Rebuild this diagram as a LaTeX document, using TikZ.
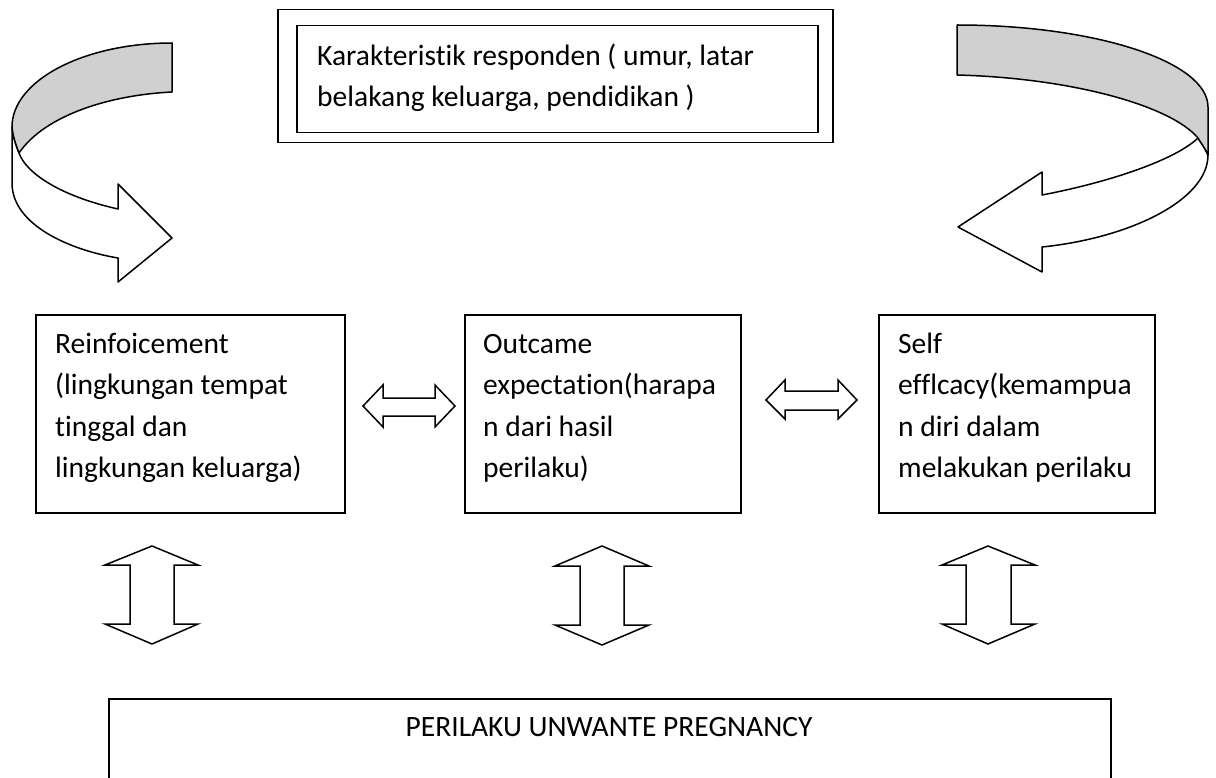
\documentclass[tikz,border=0pt]{standalone}
\usepackage{fontspec}
\setmainfont{Carlito}[Ligatures=CommonOff]
\definecolor{bandgrey}{RGB}{208,208,208}
\tikzset{
  boxframe/.style={draw, line width=1.5pt, inner sep=0pt, anchor=north west},
  txt/.style={inner sep=0pt, anchor=north west, align=left},
  blockarrow/.style={draw, line width=1.5pt, fill=white, line join=miter},
  bandwhite/.style={draw, line width=1.5pt, fill=white, line join=round},
  bandgreyst/.style={draw, line width=1.5pt, fill=bandgrey, line join=round},
}
\begin{document}
\begin{tikzpicture}[x=1pt,y=-1pt,font=\fontsize{29.5}{41.5}\selectfont]
\useasboundingbox (0,0) rectangle (1216,778);
\clip (0,0) rectangle (1216,778);
\fill[white] (0,0) rectangle (1216,778);

% top double box
\node[boxframe, minimum width=555pt, minimum height=133pt] (kout) at (277,9) {};
\node[boxframe, minimum width=521pt, minimum height=107pt] (kin) at (296,25) {};
\node[txt] (ktext) at (317,36) {\strut Karakteristik responden ( umur, latar\\belakang keluarga, pendidikan )};

% middle boxes
\node[boxframe, minimum width=309pt, minimum height=198pt] (b1) at (35,314) {};
\node[txt] (t1) at (55,324) {\strut Reinfoicement\\(lingkungan tempat\\tinggal dan\\lingkungan keluarga)};
\node[boxframe, minimum width=276pt, minimum height=198pt] (b2) at (464,314) {};
\node[txt] (t2) at (483,324) {\strut Outcame\\expectation(harapa\\n dari hasil\\perilaku)};
\node[boxframe, minimum width=276pt, minimum height=198pt] (b3) at (878,314) {};
\node[txt] (t3) at (898,324) {\strut Self\\efflcacy(kemampua\\n diri dalam\\melakukan perilaku};

% bottom box
\node[boxframe, minimum width=1002pt, minimum height=200pt] (pb) at (108,698) {};
\node[inner sep=0pt, anchor=base] (ptext) at (609,736) {PERILAKU UNWANTE PREGNANCY};

% horizontal double arrows
\draw[blockarrow] (363,406) -- (383,385) -- (383,398) -- (435,398) -- (435,385) -- (455,406)
  -- (435,427) -- (435,416) -- (383,416) -- (383,427) -- cycle;
\draw[blockarrow] (766,400) -- (785,380) -- (785,391) -- (838,391) -- (838,380) -- (857,400)
  -- (838,419) -- (838,410) -- (785,410) -- (785,419) -- cycle;

% vertical double arrows
\draw[blockarrow] (152,546) -- (198,565) -- (174,565) -- (174,624) -- (198,624) -- (152,644)
  -- (105,624) -- (130,624) -- (130,565) -- (105,565) -- cycle;
\draw[blockarrow] (602,546) -- (649,566) -- (624,566) -- (624,625) -- (649,625) -- (602,645)
  -- (555,625) -- (580,625) -- (580,566) -- (555,566) -- cycle;
\draw[blockarrow] (988,546) -- (1035,565) -- (1011,565) -- (1011,624) -- (1035,624) -- (988,644)
  -- (942,624) -- (966,624) -- (966,565) -- (942,565) -- cycle;

% left curved arrow
\draw[bandwhite] (12,127) -- (12,183) .. controls (12,225) and (70,250) .. (118,258)
  -- (118,282) -- (172,238) -- (118,184) -- (118,209)
  .. controls (60,196) and (26,173) .. (19,153)
  .. controls (16,145) and (13,137) .. (12,127) -- cycle;
\draw[bandgreyst] (172,43) .. controls (83.6,43) and (12,80.6) .. (12,127)
  .. controls (13,137) and (16,145) .. (19,153)
  .. controls (45,115) and (110,95) .. (172,92) -- cycle;

% right curved arrow
\draw[bandwhite] (1208,155) .. controls (1208,200) and (1130,238) .. (1042,247)
  -- (1042,272) -- (958,227) -- (1042,172) -- (1042,195)
  .. controls (1110,182) and (1175,160) .. (1198,138)
  .. controls (1201,143) and (1205,148) .. (1208,155) -- cycle;
\draw[bandgreyst] (957,25) .. controls (1095.6,25) and (1208,61.7) .. (1208,107)
  -- (1208,155) .. controls (1205,148) and (1201,143) .. (1198,138)
  .. controls (1170,105) and (1070,78) .. (957,75) -- cycle;
\end{tikzpicture}
\end{document}
